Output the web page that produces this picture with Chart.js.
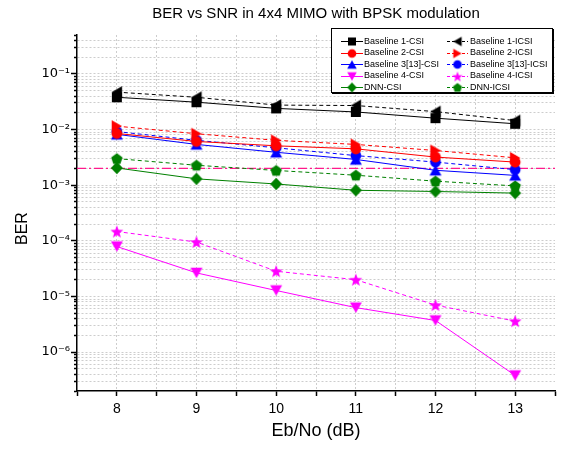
<!DOCTYPE html>
<html><head><meta charset="utf-8">
<script src="https://cdn.jsdelivr.net/npm/chart.js@4"></script>
<style>html,body{margin:0;padding:0;background:#fff;}canvas{display:block;}</style>
</head><body>
<canvas id="c" width="569" height="449"></canvas>
<script>
// ---------- data ----------
const snrDb = [8, 9, 10, 11, 12, 13];
const xTickLabels = ['8', '9', '10', '11', '12', '13'];
const yTickLabels = ['10\u207B\u2076', '10\u207B\u2075', '10\u207B\u2074', '10\u207B\u00B3', '10\u207B\u00B2', '10\u207B\u00B9']; // 1e-6 .. 1e-1
const chartTitle = 'BER vs SNR in 4x4 MIMO with BPSK modulation';
const xTitle = 'Eb/No (dB)';
const yTitle = 'BER';

const baseline1CSI   = [0.038, 0.031, 0.024, 0.0207, 0.016, 0.0127];
const baseline1ICSI  = [0.047, 0.038, 0.0275, 0.027, 0.021, 0.0145];
const baseline2CSI   = [0.0085, 0.0061, 0.0051, 0.0045, 0.0032, 0.0026];
const baseline2ICSI  = [0.0115, 0.0084, 0.0064, 0.0054, 0.0042, 0.0031];
const baseline3CSI   = [0.0082, 0.0054, 0.0039, 0.0029, 0.00185, 0.0015];
const baseline3ICSI  = [0.0092, 0.0064, 0.0047, 0.0034, 0.0026, 0.0019];
const baseline4CSI   = [7.9e-5, 2.65e-5, 1.28e-5, 6.3e-6, 3.7e-6, 3.8e-7];
const baseline4ICSI  = [1.47e-4, 9.5e-5, 2.84e-5, 2.0e-5, 7.0e-6, 3.6e-6];
const dnnCSI         = [0.00204, 0.0013, 0.00105, 0.00081, 0.00077, 0.00072];
const dnnICSI        = [0.0030, 0.00228, 0.00184, 0.00151, 0.00118, 0.00097];
const thresholdBER   = 0.002;

const seriesNames = ['Baseline 1-CSI', 'Baseline 1-ICSI', 'Baseline 2-CSI', 'Baseline 2-ICSI',
  'Baseline 3[13]-CSI', 'Baseline 3[13]-ICSI', 'Baseline 4-CSI', 'Baseline 4-ICSI', 'DNN-CSI', 'DNN-ICSI'];
const seriesValues = [baseline1CSI, baseline1ICSI, baseline2CSI, baseline2ICSI,
  baseline3CSI, baseline3ICSI, baseline4CSI, baseline4ICSI, dnnCSI, dnnICSI];

// ---------- styles ----------
const FONT = '"Liberation Sans", Arial, Helvetica, sans-serif';
const TICKFONT = '"DejaVu Sans", "Liberation Sans", sans-serif';
const seriesColors = ['#000000', '#000000', '#ff0000', '#ff0000', '#0000ff', '#0000ff', '#ff00ff', '#ff00ff', '#008000', '#008000'];
const seriesShapes = ['square', 'left', 'circle', 'right', 'up', 'circle', 'down', 'star', 'diamond', 'pentagon'];
const seriesDashed = [false, true, false, true, false, true, false, true, false, true];

function makeMarker(shape, color, scale) {
  const S = 16;
  const c = document.createElement('canvas');
  c.width = S; c.height = S;
  const g = c.getContext('2d');
  g.fillStyle = color;
  const cx = S / 2, cy = S / 2;
  g.beginPath();
  const w = 12 * scale, th = 10.4 * scale;
  switch (shape) {
    case 'square': { const h = 5 * scale; g.rect(cx - h, cy - h, 2 * h, 2 * h); break; }
    case 'circle': g.arc(cx, cy, 5.4 * scale, 0, Math.PI * 2); break;
    case 'up': g.moveTo(cx, cy - th / 2); g.lineTo(cx + w / 2, cy + th / 2); g.lineTo(cx - w / 2, cy + th / 2); break;
    case 'down': g.moveTo(cx, cy + th / 2); g.lineTo(cx + w / 2, cy - th / 2); g.lineTo(cx - w / 2, cy - th / 2); break;
    case 'left': g.moveTo(cx - th / 2, cy); g.lineTo(cx + th / 2, cy - w / 2); g.lineTo(cx + th / 2, cy + w / 2); break;
    case 'right': g.moveTo(cx + th / 2, cy); g.lineTo(cx - th / 2, cy - w / 2); g.lineTo(cx - th / 2, cy + w / 2); break;
    case 'diamond': g.moveTo(cx, cy - 6.3 * scale); g.lineTo(cx + 6 * scale, cy); g.lineTo(cx, cy + 6.3 * scale); g.lineTo(cx - 6 * scale, cy); break;
    case 'star': {
      const R = 6.8 * scale, r = 2.8 * scale;
      for (let k = 0; k < 10; k++) {
        const a = -Math.PI / 2 + k * Math.PI / 5;
        const rr = k % 2 ? r : R;
        const px = cx + rr * Math.cos(a), py = cy + 0.6 * scale + rr * Math.sin(a);
        k ? g.lineTo(px, py) : g.moveTo(px, py);
      }
      break;
    }
    case 'pentagon': {
      const R = 6 * scale;
      for (let k = 0; k < 5; k++) {
        const a = -Math.PI / 2 + k * 2 * Math.PI / 5;
        const px = cx + R * Math.cos(a), py = cy + 0.5 * scale + R * Math.sin(a);
        k ? g.lineTo(px, py) : g.moveTo(px, py);
      }
      break;
    }
  }
  g.closePath();
  g.fill();
  return c;
}

const plotMarkers = seriesShapes.map((s, i) => makeMarker(s, seriesColors[i], 1));
const legendMarkers = seriesShapes.map((s, i) => makeMarker(s, seriesColors[i], 0.8));

const datasets = seriesNames.map((name, i) => ({
  label: name,
  data: snrDb.map((x, j) => ({ x: x, y: seriesValues[i][j] })),
  borderColor: seriesColors[i],
  backgroundColor: seriesColors[i],
  borderWidth: 1,
  borderDash: seriesDashed[i] ? [4, 3] : [],
  pointStyle: plotMarkers[i],
  pointRadius: 6,
  tension: 0,
  fill: false
}));
datasets.push({
  label: 'threshold',
  data: [{ x: 7.5, y: thresholdBER }, { x: 13.5, y: thresholdBER }],
  borderColor: '#ff1a8c',
  borderWidth: 1.2,
  borderDash: [9, 3, 2, 3],
  pointRadius: 0,
  fill: false
});

function isDecade(v) {
  const e = Math.round(Math.log10(v));
  return Math.abs(v / Math.pow(10, e) - 1) < 1e-6;
}

const whiteBg = {
  id: 'whiteBg',
  beforeDraw(chart) {
    const ctx = chart.ctx;
    ctx.save(); ctx.fillStyle = '#fff'; ctx.fillRect(0, 0, chart.width, chart.height); ctx.restore();
  }
};

const boxLegend = {
  id: 'boxLegend',
  afterDraw(chart) {
    const ctx = chart.ctx;
    ctx.save();
    ctx.fillStyle = '#000';
    ctx.fillRect(332, 29, 222, 65);
    ctx.fillStyle = '#fff';
    ctx.fillRect(331, 28, 222, 65);
    ctx.strokeStyle = '#000';
    ctx.lineWidth = 1;
    ctx.setLineDash([]);
    ctx.strokeRect(331.5, 28.5, 221, 64);
    const cols = [{ l0: 341, l1: 363, m: 352, t: 364 }, { l0: 447, l1: 468, m: 457.5, t: 470 }];
    ctx.font = '9px ' + FONT;
    ctx.textBaseline = 'middle';
    ctx.textAlign = 'left';
    for (let r = 0; r < 5; r++) {
      const y = 41 + r * 11.5;
      for (let c = 0; c < 2; c++) {
        const i = r * 2 + c;
        const col = cols[c];
        const ly = Math.round(y) + 0.5;
        ctx.strokeStyle = seriesColors[i];
        ctx.setLineDash(seriesDashed[i] ? [3, 2] : []);
        ctx.beginPath(); ctx.moveTo(col.l0, ly); ctx.lineTo(col.l1, ly); ctx.stroke();
        const img = legendMarkers[i];
        ctx.drawImage(img, col.m - img.width / 2, Math.round(y) + 0.5 - img.height / 2);
        ctx.fillStyle = '#000';
        ctx.fillText(seriesNames[i], col.t, y + 0.5);
      }
    }
    ctx.restore();
  }
};

new Chart(document.getElementById('c'), {
  type: 'line',
  data: { datasets: datasets },
  plugins: [whiteBg, boxLegend],
  options: {
    responsive: false,
    devicePixelRatio: 1,
    animation: false,
    events: [],
    layout: { padding: { left: 0, right: 14, top: 0, bottom: 0 } },
    plugins: {
      legend: { display: false },
      tooltip: { enabled: false },
      title: {
        display: true, text: chartTitle, fullSize: false, color: '#000',
        font: { family: FONT, size: 15, weight: 'normal' },
        padding: { top: 5, bottom: 12 }
      }
    },
    scales: {
      x: {
        type: 'linear', min: 7.5, max: 13.5,
        afterFit: (s) => { s.height = 58; },
        ticks: {
          stepSize: 0.5, autoSkip: false, maxRotation: 0, padding: 5, color: '#000',
          font: { family: FONT, size: 14 },
          callback: (v) => { const k = snrDb.indexOf(v); return k >= 0 ? xTickLabels[k] : ''; }
        },
        grid: {
          color: (ctx) => (ctx.tick && (ctx.tick.value === 13.5 || ctx.tick.value === 7.5)) ? 'rgba(0,0,0,0)' : '#cdcdcd',
          lineWidth: 1, tickLength: 5, tickColor: '#000', tickWidth: 1.5, tickBorderDash: []
        },
        border: { color: '#000', width: 1.5, dash: [2, 2] },
        title: { display: true, text: xTitle, color: '#000', font: { family: FONT, size: 18 }, padding: { top: 0, bottom: 7 } }
      },
      y: {
        type: 'logarithmic', min: 2e-7, max: 0.5,
        afterFit: (s) => { s.width = 77; },
        afterBuildTicks: (s) => {
          const t = [];
          for (let e = -7; e <= -1; e++) {
            for (let m = 1; m <= 9; m++) {
              const v = parseFloat((m * Math.pow(10, e)).toPrecision(3));
              if (v >= 1.999e-7 && v <= 0.5001) t.push({ value: v, major: m === 1 });
            }
          }
          s.ticks = t;
        },
        ticks: {
          autoSkip: false, padding: 1, color: '#000',
          font: { family: TICKFONT, size: 13 },
          callback: (v) => {
            if (!isDecade(v)) return '';
            const e = Math.round(Math.log10(v));
            const k = e + 6;
            return (k >= 0 && k < yTickLabels.length) ? yTickLabels[k] : '';
          }
        },
        grid: {
          color: (ctx) => (ctx.tick && (ctx.tick.value >= 0.49 || ctx.tick.value <= 2.01e-7)) ? 'rgba(0,0,0,0)' : '#cdcdcd',
          lineWidth: 1, tickLength: 6, tickColor: '#000', tickWidth: 1.5,
          tickBorderDash: (ctx) => (ctx.tick && isDecade(ctx.tick.value)) ? [] : [0, 3, 3]
        },
        border: { color: '#000', width: 1.5, dash: [2, 2] },
        title: { display: true, text: yTitle + '       ', color: '#000', font: { family: FONT, size: 16 }, padding: { top: 13, bottom: 0 } }
      }
    }
  }
});
</script>
</body></html>
